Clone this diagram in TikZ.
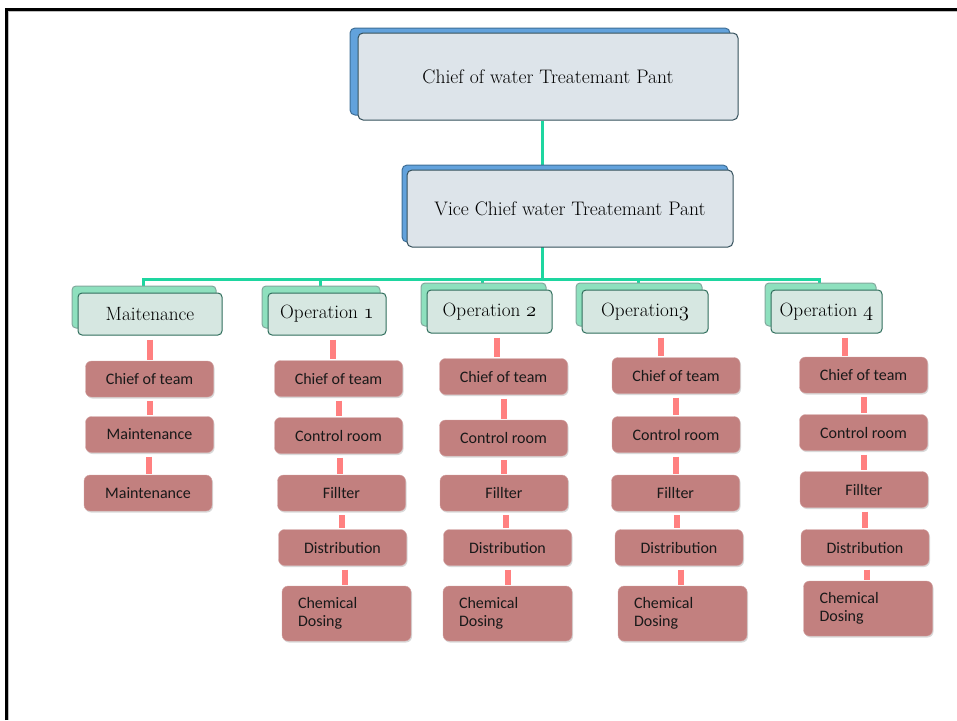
\documentclass[tikz,border=0pt]{standalone}
\usepackage{fontspec}
\newfontfamily\boxfont{Carlito}
\usetikzlibrary{calc, shadows, backgrounds}
\definecolor{trunkgreen}{HTML}{1ED6A0}
\definecolor{bluebk}{HTML}{62A2DC}
\definecolor{blueedge}{HTML}{3E6E96}
\definecolor{bluefr}{HTML}{DDE4EA}
\definecolor{darkedge}{HTML}{34505C}
\definecolor{greenbk}{HTML}{8EE0BE}
\definecolor{greenedge}{HTML}{2F6E5C}
\definecolor{greenfr}{HTML}{D6E7E1}
\definecolor{rosebox}{HTML}{C2807F}
\definecolor{roseedge}{HTML}{D3A3A3}
\definecolor{barpink}{HTML}{FF8080}
\tikzset{
    headbox/.style args={#1 #2}{
        draw=darkedge, fill=bluefr, line width=1pt, rounded corners=5pt,
        font=\fontsize{19.6}{22}\selectfont,
        copy shadow={shadow xshift=#1, shadow yshift=#2, fill=bluebk, draw=blueedge}
    },
    unitbox/.style={
        draw=greenedge, fill=greenfr, line width=1pt, rounded corners=4pt,
        minimum height=42pt, font=\fontsize{19.2}{22}\selectfont,
        copy shadow={shadow xshift=-6pt, shadow yshift=7pt, fill=greenbk, draw=greenedge!60}
    },
    taskbox/.style={
        draw=roseedge, fill=rosebox, rounded corners=6pt,
        minimum width=128pt, minimum height=36pt, text=black!90,
        font=\boxfont\fontsize{16}{18.5}\selectfont,
        drop shadow={shadow xshift=1pt, shadow yshift=-1.5pt, opacity=.3}
    },
    chembox/.style={taskbox, minimum height=55pt, text width=97pt, inner xsep=16pt, align=left},
    trunk/.style={draw=trunkgreen, line width=3pt},
    redbar/.style={draw=barpink, line width=6pt, shorten <=4pt, shorten >=1pt}
}
\begin{document}
\begin{tikzpicture}[x=1pt, y=-1pt]
    \useasboundingbox (0,0) rectangle (957,720);
    \draw[line width=3pt] (6.5,720) -- (6.5,9.5) -- (957,9.5);
    \draw[gray!50, line width=.8pt] (8.8,720) -- (8.8,11.4) -- (957,11.4);
    % top of the chart
    \node[headbox={-8pt 5pt}, minimum width=380pt, minimum height=87pt] (chief) at (548,76.5) {Chief of water Treatemant Pant};
    \node[headbox={-5pt 5pt}, minimum width=326pt, minimum height=77pt] (vice) at (570,208.5) {Vice Chief water Treatemant Pant};
    % units
    \node[unitbox, minimum width=144pt] (maint) at (150,314) {Maitenance};
    \node[unitbox, minimum width=118pt] (opa) at (327,314) {Operation $\mathnormal{1}$};
    \node[unitbox, minimum width=125pt, minimum height=43pt] (opb) at (489.5,311.5) {Operation $\mathnormal{2}$};
    \node[unitbox, minimum width=126pt, minimum height=43pt] (opc) at (645,311.5) {Operation$\mathnormal{3}$};
    \node[unitbox, minimum width=111pt, minimum height=43pt] (opd) at (826.5,311.5) {Operation $\mathnormal{4}$};
    % maintenance column
    \node[taskbox] (mchief) at (149.5,379) {Chief of team};
    \node[taskbox] (mmaint) at (149.5,434.5) {Maintenance};
    \node[taskbox] (mmaintb) at (148,493) {Maintenance};
    % operation 1
    \node[taskbox] (achief) at (338.5,378.5) {Chief of team};
    \node[taskbox] (actrl) at (338.5,435.5) {Control room};
    \node[taskbox] (afill) at (341.5,493) {Fillter};
    \node[taskbox] (adist) at (342.5,547.5) {Distribution};
    \node[chembox] (achem) at (346.5,613.5) {Chemical\\Dosing};
    % operation 2
    \node[taskbox] (bchief) at (503.5,376.5) {Chief of team};
    \node[taskbox] (bctrl) at (503.5,438) {Control room};
    \node[taskbox] (bfill) at (504,493) {Fillter};
    \node[taskbox] (bdist) at (507.5,547.5) {Distribution};
    \node[chembox] (bchem) at (507.5,613.5) {Chemical\\Dosing};
    % operation 3
    \node[taskbox] (cchief) at (676,375.5) {Chief of team};
    \node[taskbox] (cctrl) at (676,434.5) {Control room};
    \node[taskbox] (cfill) at (675.5,493) {Fillter};
    \node[taskbox] (cdist) at (679,547.5) {Distribution};
    \node[chembox] (cchem) at (682.5,613.5) {Chemical\\Dosing};
    % operation 4
    \node[taskbox] (dchief) at (863.5,375) {Chief of team};
    \node[taskbox] (dctrl) at (863.5,432.5) {Control room};
    \node[taskbox] (dfill) at (864,489.5) {Fillter};
    \node[taskbox] (ddist) at (865,547.5) {Distribution};
    \node[chembox] (dchem) at (868,608.5) {Chemical\\Dosing};
    \begin{scope}[on background layer]
    \coordinate (hub) at (542,279);
    \draw[trunk] (hub |- chief.south) -- (hub);
    \foreach \n in {maint,opa,opb,opc,opd}
        \draw[trunk] (hub) -| ([xshift=-7pt]\n.north);
    \end{scope}
    \foreach \u/\l in {maint/mchief, mchief/mmaint, mmaint/mmaintb,
        opa/achief, achief/actrl, actrl/afill, afill/adist, adist/achem,
        opb/bchief, bchief/bctrl, bctrl/bfill, bfill/bdist, bdist/bchem,
        opc/cchief, cchief/cctrl, cctrl/cfill, cfill/cdist, cdist/cchem,
        opd/dchief, dchief/dctrl, dctrl/dfill, dfill/ddist, ddist/dchem}
    {
        \path ($(\u.south)!.5!(\l.north)$) coordinate (m);
        \draw[redbar] (m |- \u.south) -- (m |- \l.north);
    }
\end{tikzpicture}
\end{document}
